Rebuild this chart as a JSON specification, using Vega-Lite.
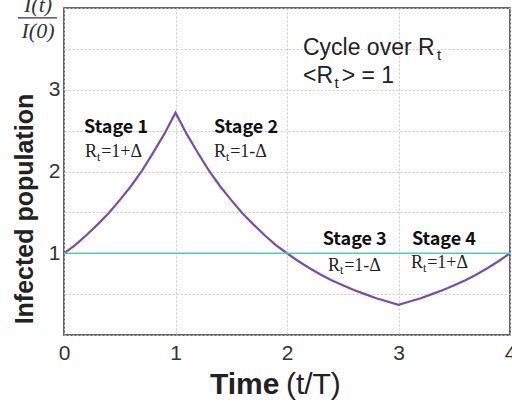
{
  "$schema": "https://vega.github.io/schema/vega-lite/v6.json",
  "width": 446,
  "height": 327,
  "autosize": {"type": "none"},
  "padding": {"left": 64, "top": 8, "right": 2, "bottom": 73},
  "background": "white",
  "config": {
    "view": {"stroke": "#333", "strokeWidth": 1.5},
    "axis": {
      "domain": false,
      "ticks": false,
      "gridColor": "#c8c8c8",
      "gridDash": [2, 2],
      "gridWidth": 1,
      "labelFont": "Liberation Sans",
      "labelFontSize": 21,
      "labelColor": "#333",
      "title": null
    }
  },
  "layer": [
    {
      "data": {"values": [
        {"t": 0, "I": 1.0}, {"t": 0.1, "I": 1.1}, {"t": 0.2, "I": 1.22}, {"t": 0.3, "I": 1.35},
        {"t": 0.4, "I": 1.49}, {"t": 0.5, "I": 1.65}, {"t": 0.6, "I": 1.82}, {"t": 0.7, "I": 2.01},
        {"t": 0.8, "I": 2.23}, {"t": 0.9, "I": 2.46}, {"t": 1.0, "I": 2.72}, {"t": 1.1, "I": 2.46},
        {"t": 1.2, "I": 2.23}, {"t": 1.3, "I": 2.01}, {"t": 1.4, "I": 1.82}, {"t": 1.5, "I": 1.65},
        {"t": 1.6, "I": 1.49}, {"t": 1.7, "I": 1.35}, {"t": 1.8, "I": 1.22}, {"t": 1.9, "I": 1.1},
        {"t": 2.0, "I": 1.0}, {"t": 2.1, "I": 0.905}, {"t": 2.2, "I": 0.82}, {"t": 2.3, "I": 0.74},
        {"t": 2.4, "I": 0.67}, {"t": 2.5, "I": 0.61}, {"t": 2.6, "I": 0.55}, {"t": 2.7, "I": 0.5},
        {"t": 2.8, "I": 0.45}, {"t": 2.9, "I": 0.41}, {"t": 3.0, "I": 0.37}, {"t": 3.1, "I": 0.41},
        {"t": 3.2, "I": 0.45}, {"t": 3.3, "I": 0.5}, {"t": 3.4, "I": 0.55}, {"t": 3.5, "I": 0.61},
        {"t": 3.6, "I": 0.67}, {"t": 3.7, "I": 0.74}, {"t": 3.8, "I": 0.82}, {"t": 3.9, "I": 0.905},
        {"t": 4.0, "I": 1.0}
      ]},
      "mark": {"type": "line", "color": "#7a4ea6", "strokeWidth": 2.2, "clip": true},
      "encoding": {
        "x": {"field": "t", "type": "quantitative",
              "scale": {"domain": [0, 4], "nice": false, "zero": false},
              "axis": {"values": [0, 1, 2, 3, 4], "grid": true, "labelPadding": 7, "labelFlush": false, "format": "d"}},
        "y": {"field": "I", "type": "quantitative",
              "scale": {"domain": [0, 4], "nice": false, "zero": false},
              "axis": {"values": [0, 0.5, 1, 1.5, 2, 2.5, 3, 3.5, 4], "grid": true, "labelPadding": 4,
                       "labelExpr": "(datum.value == 1 || datum.value == 2 || datum.value == 3) ? ('' + datum.value) : ''"}}
      }
    },
    {
      "data": {"values": [{"t": 0, "I": 1}, {"t": 4, "I": 1}]},
      "mark": {"type": "line", "color": "#5ec8b4", "strokeWidth": 1.6},
      "encoding": {
        "x": {"field": "t", "type": "quantitative"},
        "y": {"field": "I", "type": "quantitative"}
      }
    },
    {
      "data": {"values": [{"x1": -0.413, "x2": -0.063, "y": 3.88}]},
      "mark": {"type": "rule", "color": "#333", "strokeWidth": 1.2},
      "encoding": {
        "x": {"field": "x1", "type": "quantitative"},
        "x2": {"field": "x2"},
        "y": {"field": "y", "type": "quantitative"}
      }
    },
    {
      "data": {"values": [
        {"x": -0.233, "y": 3.95, "text": "I(t)"},
        {"x": -0.233, "y": 3.63, "text": "I(0)"}
      ]},
      "mark": {"type": "text", "font": "Liberation Serif", "fontStyle": "italic", "fontSize": 22, "align": "center", "baseline": "alphabetic", "color": "#333"},
      "encoding": {
        "x": {"field": "x", "type": "quantitative"},
        "y": {"field": "y", "type": "quantitative"},
        "text": {"field": "text"}
      }
    },
    {
      "data": {"values": [
        {"x": 0.179, "y": 2.53, "text": "Stage 1"},
        {"x": 1.345, "y": 2.53, "text": "Stage 2"},
        {"x": 2.32, "y": 1.16, "text": "Stage 3"},
        {"x": 3.12, "y": 1.16, "text": "Stage 4"}
      ]},
      "mark": {"type": "text", "font": "Noto Sans CJK JP", "fontWeight": "bold", "fontSize": 18, "align": "left", "baseline": "middle", "color": "#111"},
      "encoding": {
        "x": {"field": "x", "type": "quantitative"},
        "y": {"field": "y", "type": "quantitative"},
        "text": {"field": "text"}
      }
    },
    {
      "data": {"values": [
        {"x": 0.188, "y": 2.24, "text": "R"},
        {"x": 0.333, "y": 2.24, "text": "=1+Δ"},
        {"x": 1.345, "y": 2.24, "text": "R"},
        {"x": 1.49, "y": 2.24, "text": "=1-Δ"},
        {"x": 2.368, "y": 0.85, "text": "R"},
        {"x": 2.513, "y": 0.85, "text": "=1-Δ"},
        {"x": 3.112, "y": 0.88, "text": "R"},
        {"x": 3.257, "y": 0.88, "text": "=1+Δ"}
      ]},
      "mark": {"type": "text", "font": "Liberation Serif", "fontSize": 18, "align": "left", "baseline": "middle", "color": "#222"},
      "encoding": {
        "x": {"field": "x", "type": "quantitative"},
        "y": {"field": "y", "type": "quantitative"},
        "text": {"field": "text"}
      }
    },
    {
      "data": {"values": [
        {"x": 0.296, "y": 2.18, "text": "t"},
        {"x": 1.453, "y": 2.18, "text": "t"},
        {"x": 2.476, "y": 0.79, "text": "t"},
        {"x": 3.22, "y": 0.82, "text": "t"}
      ]},
      "mark": {"type": "text", "font": "Liberation Serif", "fontSize": 12, "align": "left", "baseline": "middle", "color": "#222"},
      "encoding": {
        "x": {"field": "x", "type": "quantitative"},
        "y": {"field": "y", "type": "quantitative"},
        "text": {"field": "text"}
      }
    },
    {
      "data": {"values": [
        {"x": 2.143, "y": 3.42, "text": "Cycle over R"},
        {"x": 2.143, "y": 3.086, "text": "<R"},
        {"x": 2.49, "y": 3.086, "text": "> = 1"}
      ]},
      "mark": {"type": "text", "font": "Liberation Sans", "fontSize": 23, "align": "left", "baseline": "alphabetic", "color": "#222"},
      "encoding": {
        "x": {"field": "x", "type": "quantitative"},
        "y": {"field": "y", "type": "quantitative"},
        "text": {"field": "text"}
      }
    },
    {
      "data": {"values": [
        {"x": 3.345, "y": 3.36, "text": "t"},
        {"x": 2.425, "y": 3.02, "text": "t"}
      ]},
      "mark": {"type": "text", "font": "Liberation Sans", "fontSize": 15, "align": "left", "baseline": "alphabetic", "color": "#222"},
      "encoding": {
        "x": {"field": "x", "type": "quantitative"},
        "y": {"field": "y", "type": "quantitative"},
        "text": {"field": "text"}
      }
    },
    {
      "data": {"values": [{"x": -0.278, "y": 1.54, "text": "Infected population"}]},
      "mark": {"type": "text", "font": "Liberation Sans", "fontWeight": "bold", "fontSize": 25, "angle": 270, "align": "center", "baseline": "alphabetic", "color": "#222"},
      "encoding": {
        "x": {"field": "x", "type": "quantitative"},
        "y": {"field": "y", "type": "quantitative"},
        "text": {"field": "text"}
      }
    },
    {
      "data": {"values": [{"x": 1.309, "y": -0.716, "text": "Time"}]},
      "mark": {"type": "text", "font": "Liberation Sans", "fontWeight": "bold", "fontSize": 30, "align": "left", "baseline": "alphabetic", "color": "#222"},
      "encoding": {
        "x": {"field": "x", "type": "quantitative"},
        "y": {"field": "y", "type": "quantitative"},
        "text": {"field": "text"}
      }
    },
    {
      "data": {"values": [{"x": 1.99, "y": -0.716, "text": "(t/T)"}]},
      "mark": {"type": "text", "font": "Liberation Sans", "fontSize": 30, "align": "left", "baseline": "alphabetic", "color": "#222"},
      "encoding": {
        "x": {"field": "x", "type": "quantitative"},
        "y": {"field": "y", "type": "quantitative"},
        "text": {"field": "text"}
      }
    }
  ]
}
